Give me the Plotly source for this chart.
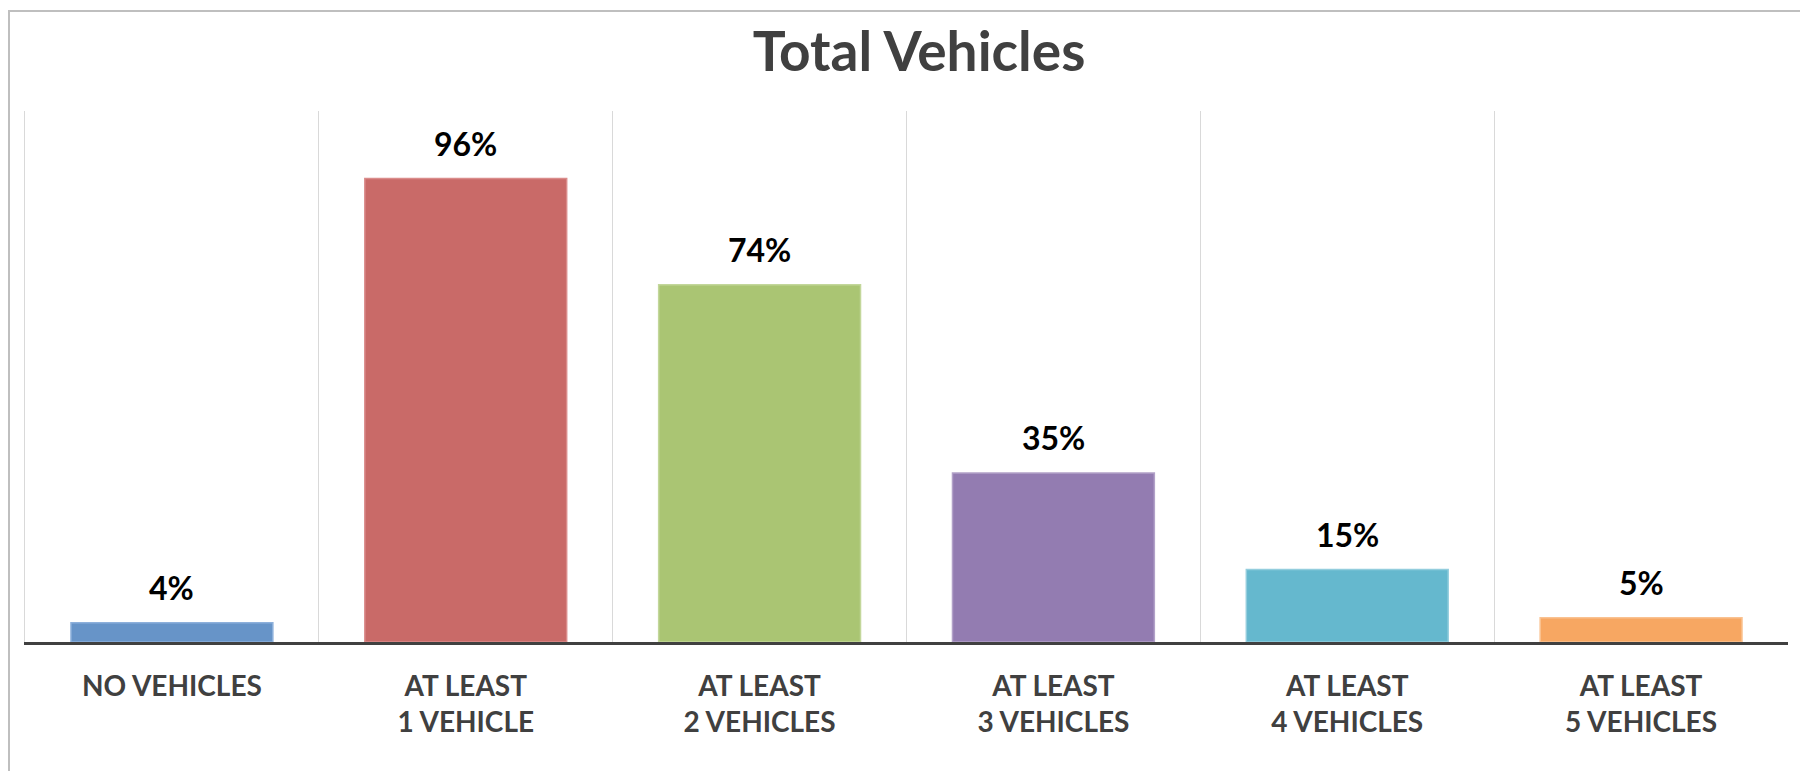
import plotly.graph_objects as go

categories = ["NO VEHICLES", "AT LEAST<br>1 VEHICLE", "AT LEAST<br>2 VEHICLES",
              "AT LEAST<br>3 VEHICLES", "AT LEAST<br>4 VEHICLES", "AT LEAST<br>5 VEHICLES"]
values = [4, 96, 74, 35, 15, 5]
labels = ["4%", "96%", "74%", "35%", "15%", "5%"]
bar_colors = ["#6794C8", "#C96A68", "#AAC573", "#937CB1", "#65B8CE", "#F7A762"]
edge_colors = ["#8DB0DB", "#DA8C8B", "#C3D79B", "#B2A1C8", "#93CDDD", "#FAC291"]

# page body has an 8px default margin, so the figure is sized for that
W, H = 1800, 763
L, R, T, B = 17, 20, 103, 129

fig = go.Figure()
fig.add_trace(go.Bar(
    x=categories, y=values,
    marker=dict(color=bar_colors, line=dict(color=edge_colors, width=1.5)),
    hoverinfo="skip",
))

for c, v, t in zip(categories, values, labels):
    fig.add_annotation(x=c, y=v, text="<b>%s</b>" % t, showarrow=False,
                       yanchor="bottom", yshift=14,
                       font=dict(family="Lato", size=32, color="#000000"))

fig.update_layout(
    width=W, height=H,
    margin=dict(l=L, r=R, t=T, b=B),
    paper_bgcolor="white", plot_bgcolor="white",
    showlegend=False,
    bargap=0.313,
    title=dict(text="<b>Total Vehicles</b>", x=911 / W, xanchor="center",
               y=1 - 44 / H, yanchor="middle", yref="container",
               font=dict(family="Lato", size=55, color="#404040")),
    xaxis=dict(
        type="category", tickson="boundaries", showgrid=True,
        gridcolor="#D9D9D9", gridwidth=1, ticks="",
        showline=True, linecolor="#404040", linewidth=3,
        tickfont=dict(family="Lato", size=28, color="#404040", weight="bold"),
        ticklabelstandoff=17,
        range=[-0.5, 5.5],
    ),
    yaxis=dict(range=[0, 110], visible=True, showgrid=False, zeroline=False,
               showticklabels=False, ticks="", showline=True,
               linecolor="#D9D9D9", linewidth=1),
)

# outer chart-area border (top and left visible, extends past right/bottom edges)
fig.add_shape(type="rect", xref="paper", yref="paper",
              x0=(1 - L) / (W - L - R), x1=(W + 20 - L) / (W - L - R),
              y0=-(B + 20) / (H - T - B), y1=1 + (T - 3) / (H - T - B),
              line=dict(color="#BFBFBF", width=2), layer="below")

fig.write_html("out.html")
